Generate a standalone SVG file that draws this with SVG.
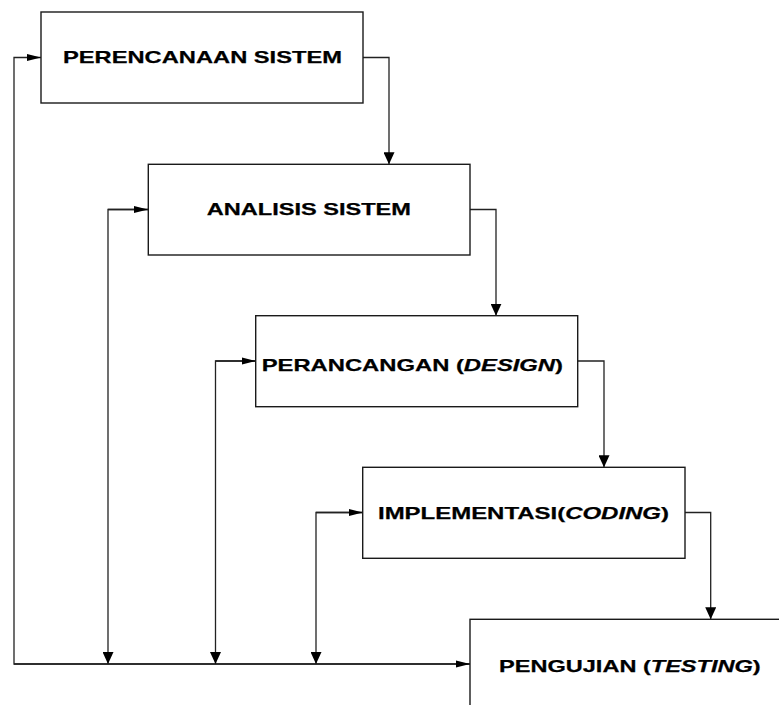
<svg xmlns="http://www.w3.org/2000/svg" width="779" height="705" viewBox="0 0 779 705">
<defs>
<style>
.box{fill:#fff;stroke:#1a1a1a;stroke-width:1.4}
.lbl{font-family:"Liberation Sans",Arial,sans-serif;font-weight:bold;font-size:17px;fill:#000;stroke:#000;stroke-width:0.25}
.it{font-style:italic}
.ln{fill:none;stroke:#222;stroke-width:1.3}
.ah{fill:#000;stroke:none}
</style>
<marker id="ahH" markerUnits="userSpaceOnUse" markerWidth="14" markerHeight="8" refX="14" refY="4" orient="auto"><path d="M0,0.5 L14,4 L0,7.5 Z" class="ah"/></marker>
<marker id="ahV" markerUnits="userSpaceOnUse" markerWidth="12" markerHeight="11" refX="12" refY="5.5" orient="auto"><path d="M0,0 L12,5.5 L0,11 Z" class="ah"/></marker>
</defs>
<rect width="779" height="705" fill="#fff"/>
<g id="connectors">
<path class="ln" d="M470,664 H14 V57.5 H41" marker-end="url(#ahH)"/>
<path class="ln" d="M14,664 H470" marker-end="url(#ahH)"/>
<path class="ln" d="M148,209.5 H108 V664" marker-end="url(#ahV)"/>
<path class="ln" d="M108,209.5 H148" marker-end="url(#ahH)"/>
<path class="ln" d="M255.7,361 H215.5 V664" marker-end="url(#ahV)"/>
<path class="ln" d="M215.5,361 H255.7" marker-end="url(#ahH)"/>
<path class="ln" d="M362.7,512.5 H316 V664" marker-end="url(#ahV)"/>
<path class="ln" d="M316,512.5 H362.7" marker-end="url(#ahH)"/>
<path class="ln" d="M363,57.5 H389 V164.3" marker-end="url(#ahV)"/>
<path class="ln" d="M470,209.5 H496 V315.7" marker-end="url(#ahV)"/>
<path class="ln" d="M577.7,361 H604 V467.3" marker-end="url(#ahV)"/>
<path class="ln" d="M685,512.5 H710.7 V619.3" marker-end="url(#ahV)"/>
</g>
<g id="perencanaan">
<rect class="box" x="41" y="12" width="322" height="91"/>
<text class="lbl" x="63" y="63.3" textLength="279" lengthAdjust="spacingAndGlyphs">PERENCANAAN SISTEM</text>
</g>
<g id="analisis">
<rect class="box" x="148.3" y="164.3" width="321.7" height="90.7"/>
<text class="lbl" x="206.7" y="215.3" textLength="204.3" lengthAdjust="spacingAndGlyphs">ANALISIS SISTEM</text>
</g>
<g id="perancangan">
<rect class="box" x="255.7" y="315.7" width="322" height="91"/>
<text class="lbl" x="261.7" y="370.7" textLength="301.3" lengthAdjust="spacingAndGlyphs">PERANCANGAN (<tspan class="it">DESIGN</tspan>)</text>
</g>
<g id="implementasi">
<rect class="box" x="362.7" y="467.3" width="322.3" height="91"/>
<text class="lbl" x="378" y="519" textLength="291" lengthAdjust="spacingAndGlyphs">IMPLEMENTASI(<tspan class="it">CODING</tspan>)</text>
</g>
<g id="pengujian">
<rect class="box" x="470" y="619.3" width="322" height="91"/>
<text class="lbl" x="499" y="671.7" textLength="261.7" lengthAdjust="spacingAndGlyphs">PENGUJIAN (<tspan class="it">TESTING</tspan>)</text>
</g>
</svg>
